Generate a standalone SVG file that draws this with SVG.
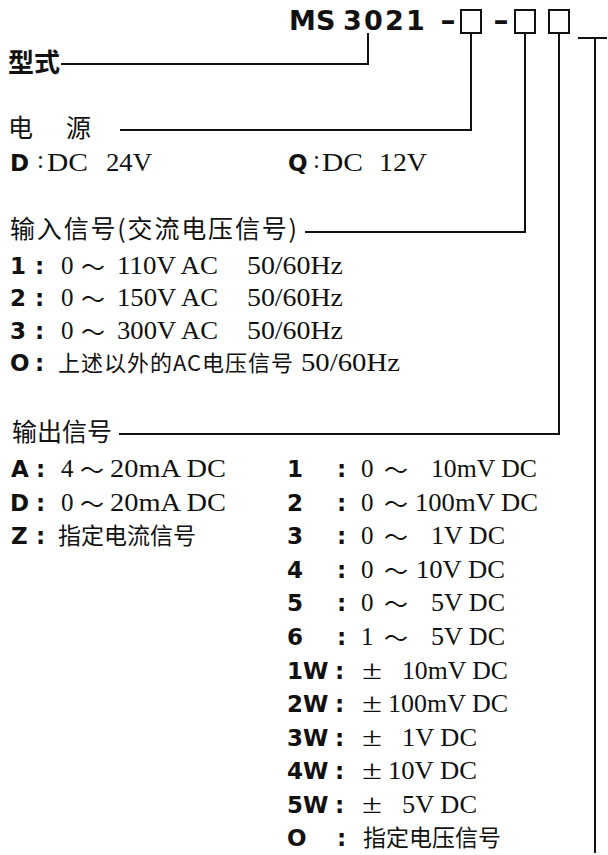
<svg xmlns="http://www.w3.org/2000/svg" width="608" height="855" viewBox="0 0 608 855">
<style>
.b{font-family:"DejaVu Sans","Liberation Sans",sans-serif;font-weight:bold;font-size:23px;fill:#111}
.tt{font-family:"DejaVu Sans","Liberation Sans",sans-serif;font-weight:bold;font-size:27px;fill:#111}
.s{font-family:"Liberation Serif",serif;font-size:25px;fill:#111}
.pm{font-family:"Liberation Serif",serif;font-size:27px;fill:#111}
.c{font-family:"Noto Sans CJK SC",sans-serif;font-size:25px;fill:#111}
.cb{font-family:"Noto Sans CJK SC",sans-serif;font-size:26px;font-weight:bold;fill:#111}
.c2{font-family:"Noto Sans CJK SC",sans-serif;font-size:23px;fill:#111}
.t{font-family:"Noto Sans CJK SC",sans-serif;font-size:24px;fill:#111}
.ln{fill:none;stroke:#111;stroke-width:2}
.bx{fill:#fff;stroke:#111;stroke-width:2}
</style>
<rect width="608" height="855" fill="#fff"/>
<g id="title">
<text class="tt" x="289 316 343 364 385 406" y="30">MS3021</text>
<text class="tt" x="440" y="30" textLength="16" lengthAdjust="spacingAndGlyphs">-</text>
<rect class="bx" x="461" y="10" width="20" height="23"/>
<text class="tt" x="493" y="30" textLength="16" lengthAdjust="spacingAndGlyphs">-</text>
<rect class="bx" x="515" y="10" width="20" height="23"/>
<rect class="bx" x="549" y="10" width="20" height="23"/>
</g>
<g id="connectors">
<path class="ln" d="M368,33 V64 H61"/>
<path class="ln" d="M471,33 V130 H120"/>
<path class="ln" d="M525,33 V232 H305"/>
<path class="ln" d="M559,33 V434 H119"/>
<path class="ln" d="M578,38 H607 M595,38 V853"/>
</g>
<g id="model">
<text class="cb" x="8" y="72">型式</text>
</g>
<g id="power">
<text class="c" x="8 37 66" y="137">电 源</text>
<text class="b" x="10" y="171">D</text>
<text class="s" x="37" y="168">:</text>
<text class="s" x="47" y="171" textLength="41" lengthAdjust="spacingAndGlyphs">DC</text>
<text class="s" x="106" y="171" textLength="46" lengthAdjust="spacingAndGlyphs">24V</text>
<text class="b" x="288" y="171">Q</text>
<text class="s" x="313" y="168">:</text>
<text class="s" x="322" y="171" textLength="41" lengthAdjust="spacingAndGlyphs">DC</text>
<text class="s" x="379" y="171" textLength="48" lengthAdjust="spacingAndGlyphs">12V</text>
</g>
<g id="input">
<text class="c" x="10" y="238" textLength="287">输入信号(交流电压信号)</text>
<g id="in1">
<text class="b" x="10 35" y="274">1:</text>
<text class="s" x="61" y="274">0</text>
<text class="t" x="81" y="276">～</text>
<text class="s" x="117" y="274" textLength="101" lengthAdjust="spacingAndGlyphs">110V AC</text>
<text class="s" x="247" y="274" textLength="96" lengthAdjust="spacingAndGlyphs">50/60Hz</text>
</g>
<g id="in2">
<text class="b" x="10 35" y="306">2:</text>
<text class="s" x="61" y="306">0</text>
<text class="t" x="81" y="308">～</text>
<text class="s" x="117" y="306" textLength="101" lengthAdjust="spacingAndGlyphs">150V AC</text>
<text class="s" x="247" y="306" textLength="96" lengthAdjust="spacingAndGlyphs">50/60Hz</text>
</g>
<g id="in3">
<text class="b" x="10 35" y="339">3:</text>
<text class="s" x="61" y="339">0</text>
<text class="t" x="81" y="341">～</text>
<text class="s" x="117" y="339" textLength="101" lengthAdjust="spacingAndGlyphs">300V AC</text>
<text class="s" x="247" y="339" textLength="96" lengthAdjust="spacingAndGlyphs">50/60Hz</text>
</g>
<g id="in0">
<text class="b" x="10 35" y="371">O:</text>
<text class="c" style="font-size:22px" x="58" y="371" textLength="235">上述以外的AC电压信号</text>
<text class="s" x="301" y="371" textLength="99" lengthAdjust="spacingAndGlyphs">50/60Hz</text>
</g>
</g>
<g id="output">
<text class="c" x="12" y="441">输出信号</text>
<g id="outA">
<text class="b" x="11 36" y="477">A:</text>
<text class="s" x="61" y="477">4</text>
<text class="t" x="80" y="479">～</text>
<text class="s" x="110" y="477" textLength="116" lengthAdjust="spacingAndGlyphs">20mA DC</text>
</g>
<g id="outD">
<text class="b" x="10 36" y="511">D:</text>
<text class="s" x="61" y="511">0</text>
<text class="t" x="80" y="513">～</text>
<text class="s" x="110" y="511" textLength="116" lengthAdjust="spacingAndGlyphs">20mA DC</text>
</g>
<g id="outZ">
<text class="b" x="11 36" y="544">Z:</text>
<text class="c2" x="58" y="544">指定电流信号</text>
</g>
<g id="out1">
<text class="b" x="287 337" y="477">1:</text>
<text class="s" x="361" y="477">0</text>
<text class="t" x="384" y="479">～</text>
<text class="s" x="431" y="477" textLength="106" lengthAdjust="spacingAndGlyphs">10mV DC</text>
</g>
<g id="out2">
<text class="b" x="287 337" y="511">2:</text>
<text class="s" x="361" y="511">0</text>
<text class="t" x="384" y="513">～</text>
<text class="s" x="415" y="511" textLength="123" lengthAdjust="spacingAndGlyphs">100mV DC</text>
</g>
<g id="out3">
<text class="b" x="287 337" y="544">3:</text>
<text class="s" x="361" y="544">0</text>
<text class="t" x="384" y="546">～</text>
<text class="s" x="431" y="544" textLength="74" lengthAdjust="spacingAndGlyphs">1V DC</text>
</g>
<g id="out4">
<text class="b" x="287 337" y="578">4:</text>
<text class="s" x="361" y="578">0</text>
<text class="t" x="384" y="580">～</text>
<text class="s" x="416" y="578" textLength="89" lengthAdjust="spacingAndGlyphs">10V DC</text>
</g>
<g id="out5">
<text class="b" x="287 337" y="611">5:</text>
<text class="s" x="361" y="611">0</text>
<text class="t" x="384" y="613">～</text>
<text class="s" x="431" y="611" textLength="74" lengthAdjust="spacingAndGlyphs">5V DC</text>
</g>
<g id="out6">
<text class="b" x="287 337" y="645">6:</text>
<text class="s" x="361" y="645">1</text>
<text class="t" x="384" y="647">～</text>
<text class="s" x="431" y="645" textLength="74" lengthAdjust="spacingAndGlyphs">5V DC</text>
</g>
<g id="out1W">
<text class="b" x="287 303 335" y="679">1W:</text>
<text class="pm" x="362" y="679" textLength="20" lengthAdjust="spacingAndGlyphs">±</text>
<text class="s" x="402" y="679" textLength="106" lengthAdjust="spacingAndGlyphs">10mV DC</text>
</g>
<g id="out2W">
<text class="b" x="287 303 335" y="712">2W:</text>
<text class="pm" x="362" y="712" textLength="20" lengthAdjust="spacingAndGlyphs">±</text>
<text class="s" x="388" y="712" textLength="120" lengthAdjust="spacingAndGlyphs">100mV DC</text>
</g>
<g id="out3W">
<text class="b" x="287 303 335" y="746">3W:</text>
<text class="pm" x="362" y="746" textLength="20" lengthAdjust="spacingAndGlyphs">±</text>
<text class="s" x="402" y="746" textLength="75" lengthAdjust="spacingAndGlyphs">1V DC</text>
</g>
<g id="out4W">
<text class="b" x="287 303 335" y="779">4W:</text>
<text class="pm" x="362" y="779" textLength="20" lengthAdjust="spacingAndGlyphs">±</text>
<text class="s" x="388" y="779" textLength="89" lengthAdjust="spacingAndGlyphs">10V DC</text>
</g>
<g id="out5W">
<text class="b" x="287 303 335" y="813">5W:</text>
<text class="pm" x="362" y="813" textLength="20" lengthAdjust="spacingAndGlyphs">±</text>
<text class="s" x="402" y="813" textLength="75" lengthAdjust="spacingAndGlyphs">5V DC</text>
</g>
<g id="out0">
<text class="b" x="287 337" y="846">O:</text>
<text class="c2" x="363" y="846">指定电压信号</text>
</g>
</g>
</svg>
